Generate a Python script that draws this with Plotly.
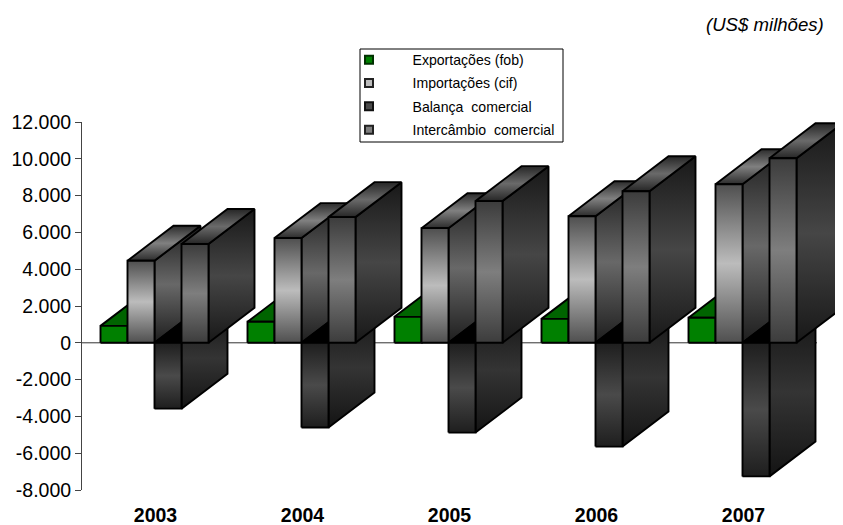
import plotly.graph_objects as go

years = ["2003", "2004", "2005", "2006", "2007"]
exportacoes = [920, 1140, 1410, 1300, 1360]
importacoes = [4460, 5690, 6230, 6880, 8620]
balanca = [-3580, -4600, -4880, -5640, -7260]
intercambio = [5370, 6830, 7700, 8240, 10030]
y_ticks = [12000, 10000, 8000, 6000, 4000, 2000, 0, -2000, -4000, -6000, -8000]
y_labels = ["12.000", "10.000", "8.000", "6.000", "4.000", "2.000", "0", "-2.000", "-4.000", "-6.000", "-8.000"]

def sym(edge, mid):
    return [[0, edge], [0.5, mid], [1, edge]]

series = [
    dict(name="Exportações (fob)", values=exportacoes, front=sym("#008000", "#008000"),
         top=sym("#006400", "#006400"), side=sym("#006400", "#006400"), key="#008000", edge="#003000"),
    dict(name="Importações (cif)", values=importacoes, front=sym("#4f4f4f", "#bcbcbc"),
         top=sym("#2c2c2c", "#808080"), side=sym("#1e1e1e", "#686868"), key="#bcbcbc", edge="#222222"),
    dict(name="Balança  comercial", values=balanca, front=sym("#1e1e1e", "#4a4a4a"),
         top=sym("#000000", "#000000"), side=sym("#141414", "#343434"), key="#4a4a4a", edge="#111111"),
    dict(name="Intercâmbio  comercial", values=intercambio, front=sym("#3c3c3c", "#7e7e7e"),
         top=sym("#262626", "#6a6a6a"), side=sym("#181818", "#464646"), key="#7e7e7e", edge="#222222"),
]

CAT_PX = 147.0
BAR_W = 27.0 / CAT_PX
FIRST = 18.5 / CAT_PX
DEPTH_X = 46.0 / CAT_PX
DEPTH_Y = 1900
PAGE_GAP = 8
W, H = 843 - PAGE_GAP, 525 - PAGE_GAP
LEFT, BOTTOM = 82, 490
PW, PH = 843 - LEFT, 368   # plot area runs to the page edge so the last bar's depth is not clipped

fig = go.Figure()

# the horizontal axis line at zero, ending where the last category ends
fig.add_trace(go.Scatter(x=[0, len(years)], y=[0, 0], mode="lines", line=dict(color="#333333", width=1),
                         showlegend=False, hoverinfo="skip"))

def face(xs, ys, scale):
    fig.add_trace(go.Scatter(
        x=xs, y=ys, mode="lines", fill="toself",
        line=dict(color="black", width=1.9),
        fillgradient=dict(type="vertical", colorscale=scale),
        showlegend=False, hoverinfo="skip", cliponaxis=False,
    ))

for c in range(len(years)):
    for k, s in enumerate(series):
        v = s["values"][c]
        x0 = c + FIRST + k * BAR_W
        x1 = x0 + BAR_W
        hi = max(v, 0)
        lo = min(v, 0)
        face([x1, x1 + DEPTH_X, x1 + DEPTH_X, x1, x1], [hi, hi + DEPTH_Y, lo + DEPTH_Y, lo, hi], s["side"])
        face([x0, x0 + DEPTH_X, x1 + DEPTH_X, x1, x0], [hi, hi + DEPTH_Y, hi + DEPTH_Y, hi, hi], s["top"])
        face([x0, x1, x1, x0, x0], [lo, lo, hi, hi, lo], s["front"])

for i, s in enumerate(series):
    fig.add_trace(go.Scatter(
        x=[None], y=[None], mode="markers", name="\u00a0" * 6 + s["name"].replace("  ", "\u00a0\u00a0"),
        legendgroup=s["name"],
        marker=dict(symbol="square", size=8, color=s["key"], line=dict(color=s["edge"], width=2)),
        hoverinfo="skip",
    ))

fig.update_layout(
    width=W, height=H,
    margin=dict(l=LEFT - PAGE_GAP, r=W - (LEFT - PAGE_GAP) - PW, t=BOTTOM - PAGE_GAP - PH,
                b=H - (BOTTOM - PAGE_GAP), autoexpand=False),
    paper_bgcolor="white", plot_bgcolor="white",
    font=dict(family="Liberation Sans, Arial, sans-serif", color="black"),
    showlegend=True,
    legend=dict(x=(349 - PAGE_GAP) / W, xref="container", y=1 - (44 - PAGE_GAP) / H, yref="container",
                xanchor="left", yanchor="top",
                font=dict(size=14.1), bgcolor="rgba(0,0,0,0)", tracegroupgap=2,
                itemclick=False, itemdoubleclick=False),
    xaxis=dict(range=[0, PW / CAT_PX], tickvals=[c + 0.5 for c in range(len(years))], ticktext=["<b>%s</b>" % y for y in years],
               tickangle=0, showgrid=False, zeroline=False, showline=False, ticks="outside", ticklen=8,
               tickcolor="rgba(0,0,0,0)", tickfont=dict(size=19.5)),
    yaxis=dict(range=[-8000, 12000], tickvals=y_ticks, ticktext=y_labels, showgrid=False,
               zeroline=False, showline=True, linecolor="#444444", linewidth=1,
               ticks="outside", ticklen=6, tickcolor="#444444", tickfont=dict(size=19.5)),
    shapes=[dict(type="rect", xref="paper", yref="paper", x0=(360 - LEFT) / PW, x1=(563 - LEFT) / PW,
                 y0=(BOTTOM - 142) / PH, y1=(BOTTOM - 49) / PH, line=dict(color="black", width=1),
                 fillcolor="white", layer="below")],
    annotations=[dict(text="<i>(US$ milhões)</i>", xref="paper", yref="paper", x=(826 - LEFT) / PW, y=(BOTTOM - 24) / PH,
                      xanchor="right", yanchor="middle", showarrow=False, font=dict(size=18.6))],
)

fig.write_html("out.html")
